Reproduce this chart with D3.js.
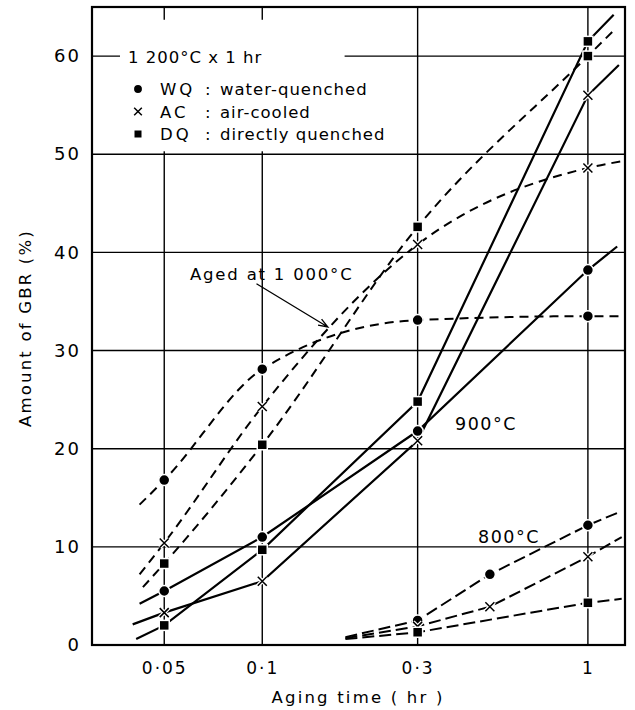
<!DOCTYPE html>
<html>
<head>
<meta charset="utf-8">
<script src="https://cdn.jsdelivr.net/npm/d3@7"></script>
<style>
  body { margin: 0; background: #fff; }
  text { font-family: "DejaVu Sans", sans-serif; fill: #000; }
</style>
</head>
<body>
<div id="chart"></div>
<script>
// aging times (hr) where points were measured
const times = [0.05, 0.1, 0.3, 1];
const times800 = [0.3, 0.5, 1];
const xTicks = [0.05, 0.1, 0.3, 1];
const xTickLabels = ['0·05', '0·1', '0·3', '1'];
const yTicks = [0, 10, 20, 30, 40, 50, 60];

// aged at 1000 C (dashed, curved)
const wq1000 = [16.8, 28.1, 33.1, 33.5];
const ac1000 = [10.4, 24.3, 40.8, 48.6];
const dq1000 = [8.3, 20.4, 42.6, 60.0];
// aged at 900 C (solid)
const wq900 = [5.5, 11.0, 21.8, 38.2];
const ac900 = [3.3, 6.5, 20.8, 56.0];
const dq900 = [2.0, 9.7, 24.8, 61.5];
// aged at 800 C (long dashes)
const wq800 = [2.5, 7.2, 12.2];
const ac800 = [1.9, 3.9, 9.0];
const dq800 = [1.3, null, 4.3];

// where the drawn curves run out beyond the measured points [time, value]
const ends1000 = { wq: [[0.042, 14.3], [1.28, 33.5]], ac: [[0.042, 7.2], [1.28, 49.3]], dq: [[0.043, 5.9], [1.2, 62.6]] };
const ends900 = { wq: [[0.042, 4.2], [1.23, 40.6]], ac: [[0.040, 2.1], [1.245, 59.1]], dq: [[0.041, 0.6], [1.2, 64.2]] };
const ends800 = { wq: [[0.18, 0.8], [1.24, 13.5]], ac: [[0.18, 0.7], [1.27, 11.0]], dq: [[0.18, 0.6], [1.27, 4.7]] };

const legendItems = [
  { key: 'wq', code: 'WQ', text: 'water-quenched' },
  { key: 'ac', code: 'AC', text: 'air-cooled' },
  { key: 'dq', code: 'DQ', text: 'directly quenched' }
];

const W = 635, H = 710;
const margin = { top: 7, right: 10, bottom: 65, left: 92 };

const svg = d3.select('#chart').append('svg')
  .attr('width', W)
  .attr('height', H);

const x = d3.scaleLog().domain([0.03, 1.3]).range([margin.left, W - margin.right]);
const y = d3.scaleLinear().domain([0, 65]).range([H - margin.bottom, margin.top]);

// grid
svg.append('g').selectAll('line.v')
  .data(xTicks)
  .enter().append('line')
  .attr('x1', d => x(d)).attr('x2', d => x(d))
  .attr('y1', y(65)).attr('y2', y(0))
  .attr('stroke', '#000').attr('stroke-width', 1.4);
svg.append('g').selectAll('line.h')
  .data(yTicks.filter(d => d > 0))
  .enter().append('line')
  .attr('x1', x(0.03)).attr('x2', x(1.3))
  .attr('y1', d => y(d)).attr('y2', d => y(d))
  .attr('stroke', '#000').attr('stroke-width', 1.4);

// legend block hides the grid behind it (a short stub of the 60 line stays at the axis)
svg.append('rect')
  .attr('x', 120).attr('y', y(63.7))
  .attr('width', x(0.179) - 120).attr('height', y(50.3) - y(63.7))
  .attr('fill', '#fff');

// frame
svg.append('rect')
  .attr('x', x(0.03)).attr('y', y(65))
  .attr('width', x(1.3) - x(0.03)).attr('height', y(0) - y(65))
  .attr('fill', 'none').attr('stroke', '#000').attr('stroke-width', 2.2);

// axes labels
const xAxis = d3.axisBottom(x).tickValues(xTicks).tickSize(0)
  .tickFormat((d, i) => xTickLabels[i]);
const gx = svg.append('g')
  .attr('transform', 'translate(0,' + y(0) + ')')
  .call(xAxis);
gx.select('.domain').remove();
gx.selectAll('text')
  .attr('dy', '1.5em')
  .style('font-size', '17px')
  .style('letter-spacing', '2px')
  .style('font-family', '"DejaVu Sans", sans-serif');

const yAxis = d3.axisLeft(y).tickValues(yTicks).tickSize(0);
const gy = svg.append('g')
  .attr('transform', 'translate(' + x(0.03) + ',0)')
  .call(yAxis);
gy.select('.domain').remove();
gy.selectAll('text')
  .attr('x', -11)
  .style('font-size', '18px')
  .style('letter-spacing', '2px')
  .style('font-family', '"DejaVu Sans", sans-serif');

svg.append('text')
  .text('Aging time ( hr )')
  .attr('x', 358).attr('y', 703)
  .attr('text-anchor', 'middle')
  .style('font-size', '16.5px')
  .style('letter-spacing', '2.2px');

svg.append('text')
  .text('Amount of GBR  (%)')
  .attr('transform', 'translate(31,' + 328 + ') rotate(-90)')
  .attr('text-anchor', 'middle')
  .style('font-size', '16.5px')
  .style('letter-spacing', '2.2px');

// lines
function pts(ts, vals, ends) {
  const p = [ends[0]];
  ts.forEach((t, i) => { if (vals[i] != null) p.push([t, vals[i]]); });
  p.push(ends[1]);
  return p;
}
const lineCurve = d3.line().x(d => x(d[0])).y(d => y(d[1])).curve(d3.curveMonotoneX);
const lineStraight = d3.line().x(d => x(d[0])).y(d => y(d[1]));

const lines = svg.append('g').attr('fill', 'none').attr('stroke', '#000').attr('stroke-width', 2);
[wq1000, ac1000, dq1000].forEach((s, i) => {
  lines.append('path')
    .attr('d', lineCurve(pts(times, s, ends1000[legendItems[i].key])))
    .attr('stroke-dasharray', '9,6');
});
[wq900, ac900, dq900].forEach((s, i) => {
  lines.append('path')
    .attr('d', lineStraight(pts(times, s, ends900[legendItems[i].key])))
    .attr('stroke-width', 2.2);
});
[wq800, ac800, dq800].forEach((s, i) => {
  lines.append('path')
    .attr('d', lineStraight(pts(times800, s, ends800[legendItems[i].key])))
    .attr('stroke-dasharray', '12,5');
});

// markers
function marker(g, kind, cx, cy, scale) {
  const k = scale || 1;
  if (kind === 'wq') {
    g.append('circle').attr('cx', cx).attr('cy', cy).attr('r', 5.5 * k)
      .attr('fill', '#000').attr('stroke', '#fff').attr('stroke-width', 1.5);
  } else if (kind === 'dq') {
    g.append('rect').attr('x', cx - 5 * k).attr('y', cy - 5 * k)
      .attr('width', 10 * k).attr('height', 10 * k)
      .attr('fill', '#000').attr('stroke', '#fff').attr('stroke-width', 1.5);
  } else {
    const s = 4.5 * k;
    g.append('path')
      .attr('d', `M${cx - s},${cy - s}L${cx + s},${cy + s}M${cx - s},${cy + s}L${cx + s},${cy - s}`)
      .attr('stroke', '#fff').attr('stroke-width', 4);
    g.append('path')
      .attr('d', `M${cx - s},${cy - s}L${cx + s},${cy + s}M${cx - s},${cy + s}L${cx + s},${cy - s}`)
      .attr('stroke', '#000').attr('stroke-width', 1.5);
  }
}
const mk = svg.append('g');
const groups = [
  [times, [wq1000, ac1000, dq1000]],
  [times, [wq900, ac900, dq900]],
  [times800, [wq800, ac800, dq800]]
];
groups.forEach(([ts, series]) => {
  series.forEach((s, i) => {
    s.forEach((v, j) => {
      if (v != null) marker(mk, legendItems[i].key, x(ts[j]), y(v));
    });
  });
});

// legend
const lg = svg.append('g');
lg.append('text').text('1 200°C x 1 hr')
  .attr('x', 128).attr('y', 63)
  .style('font-size', '16.5px').style('letter-spacing', '1px');
legendItems.forEach((d, i) => {
  const ly = 89 + i * 22.5;
  marker(lg, d.key, 138, ly, 0.85);
  lg.append('text').text(d.code).attr('x', 160).attr('y', ly + 6)
    .style('font-size', '16.5px').style('letter-spacing', '3px');
  lg.append('text').text(':').attr('x', 205).attr('y', ly + 6)
    .style('font-size', '16.5px');
  lg.append('text').text(d.text).attr('x', 220).attr('y', ly + 6)
    .style('font-size', '16.5px').style('letter-spacing', '1px');
});

// annotations
svg.append('text').text('Aged at 1 000°C')
  .attr('x', 190).attr('y', 280)
  .style('font-size', '16.5px').style('letter-spacing', '1.8px');
const ax0 = [x(0.096), y(36.8)], ax1 = [x(0.159), y(32.4)];
const ang = Math.atan2(ax1[1] - ax0[1], ax1[0] - ax0[0]);
svg.append('path')
  .attr('d', `M${ax0[0]},${ax0[1]}L${ax1[0]},${ax1[1]}` +
    `M${ax1[0] - 10 * Math.cos(ang - 0.35)},${ax1[1] - 10 * Math.sin(ang - 0.35)}L${ax1[0]},${ax1[1]}` +
    `L${ax1[0] - 10 * Math.cos(ang + 0.35)},${ax1[1] - 10 * Math.sin(ang + 0.35)}`)
  .attr('fill', 'none').attr('stroke', '#000').attr('stroke-width', 1.3);

svg.append('text').text('900°C')
  .attr('x', 455).attr('y', 430)
  .style('font-size', '17.5px').style('letter-spacing', '1.5px');
svg.append('text').text('800°C')
  .attr('x', 478).attr('y', 543)
  .style('font-size', '17.5px').style('letter-spacing', '1.5px');
</script>
</body>
</html>
